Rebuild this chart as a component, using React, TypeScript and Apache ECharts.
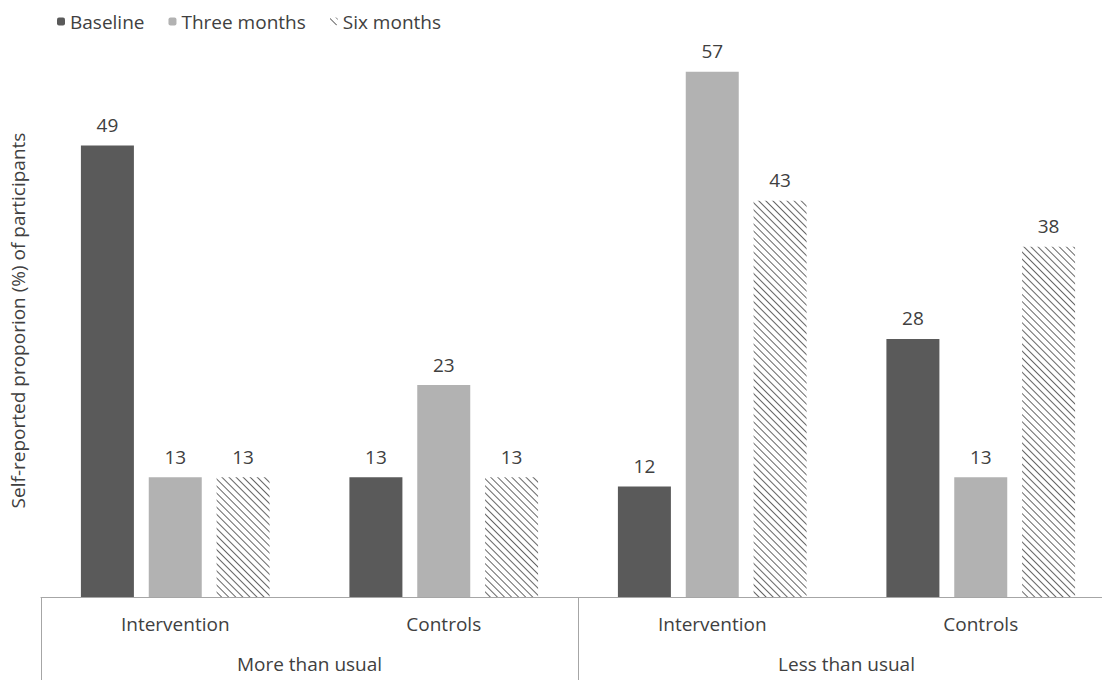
import React, { useEffect, useRef } from "react";
import * as echarts from "echarts";

const groups = ["Intervention", "Controls", "Intervention", "Controls"];
const outerGroups = ["More than usual", "Less than usual"];
const baseline = [49, 13, 12, 28];
const threeMonths = [13, 23, 57, 13];
const sixMonths = [13, 13, 43, 38];
const yAxisTitle = "Self-reported proporion (%) of participants";

const FONT = "'Open Sans', 'Noto Sans', sans-serif";
const TXT = "#404040";
const FS = 19;

export default function App() {
  const ref = useRef<HTMLDivElement>(null);
  useEffect(() => {
    if (!ref.current) return;
    const chart = echarts.init(ref.current, null, { renderer: "svg" });
    const label = {
      show: true,
      position: "top" as const,
      distance: 11,
      fontSize: FS,
      fontFamily: FONT,
      color: TXT,
    };
    chart.setOption({
      animation: false,
      textStyle: { fontFamily: FONT },
      legend: {
        left: 52,
        top: 7,
        itemWidth: 8,
        itemHeight: 8,
        itemGap: 24,
        textStyle: { fontSize: FS, color: TXT, fontFamily: FONT },
        data: ["Baseline", "Three months", "Six months"],
      },
      grid: { left: 39, top: 44, right: 5, bottom: 83 },
      xAxis: [
        {
          type: "category",
          data: groups,
          position: "bottom",
          axisLine: { show: true, lineStyle: { color: "#a6a6a6", width: 1 } },
          axisTick: { show: false },
          axisLabel: { margin: 17, fontSize: FS, color: TXT, fontFamily: FONT },
        },
        {
          type: "category",
          data: outerGroups,
          position: "bottom",
          offset: 0,
          axisLine: { show: false },
          axisTick: { show: true, length: 83, lineStyle: { color: "#a6a6a6", width: 1 } },
          axisLabel: { margin: 57, fontSize: FS, color: TXT, fontFamily: FONT },
        },
      ],
      yAxis: {
        type: "value",
        min: 0,
        max: 60,
        axisLine: { show: false },
        axisTick: { show: false },
        axisLabel: { show: false },
        splitLine: { show: false },
        name: yAxisTitle,
        nameLocation: "middle",
        nameGap: 14,
        nameTextStyle: { fontSize: FS, color: TXT, fontFamily: FONT },
      },
      series: [
        {
          name: "Baseline",
          type: "bar",
          data: baseline,
          barWidth: 53,
          barGap: "28%",
          itemStyle: { color: "#5a5a5a" },
          label,
        },
        {
          name: "Three months",
          type: "bar",
          data: threeMonths,
          barWidth: 53,
          barGap: "28%",
          itemStyle: { color: "#b2b2b2" },
          label,
        },
        {
          name: "Six months",
          type: "bar",
          data: sixMonths,
          barWidth: 53,
          barGap: "28%",
          itemStyle: {
            color: "#ffffff",
            decal: {
              symbol: "rect",
              symbolSize: 1,
              color: "#666666",
              dashArrayX: [1, 0],
              dashArrayY: [1, 3.2],
              rotation: Math.PI / 4,
            },
          },
          label,
        },
      ],
    });
    return () => chart.dispose();
  }, []);
  return (
    <div
      style={{ position: "fixed", left: 0, top: 0, width: 1102, height: 680, overflow: "hidden", background: "#fff" }}
    >
      <div ref={ref} style={{ width: 1120, height: 680 }} />
    </div>
  );
}
